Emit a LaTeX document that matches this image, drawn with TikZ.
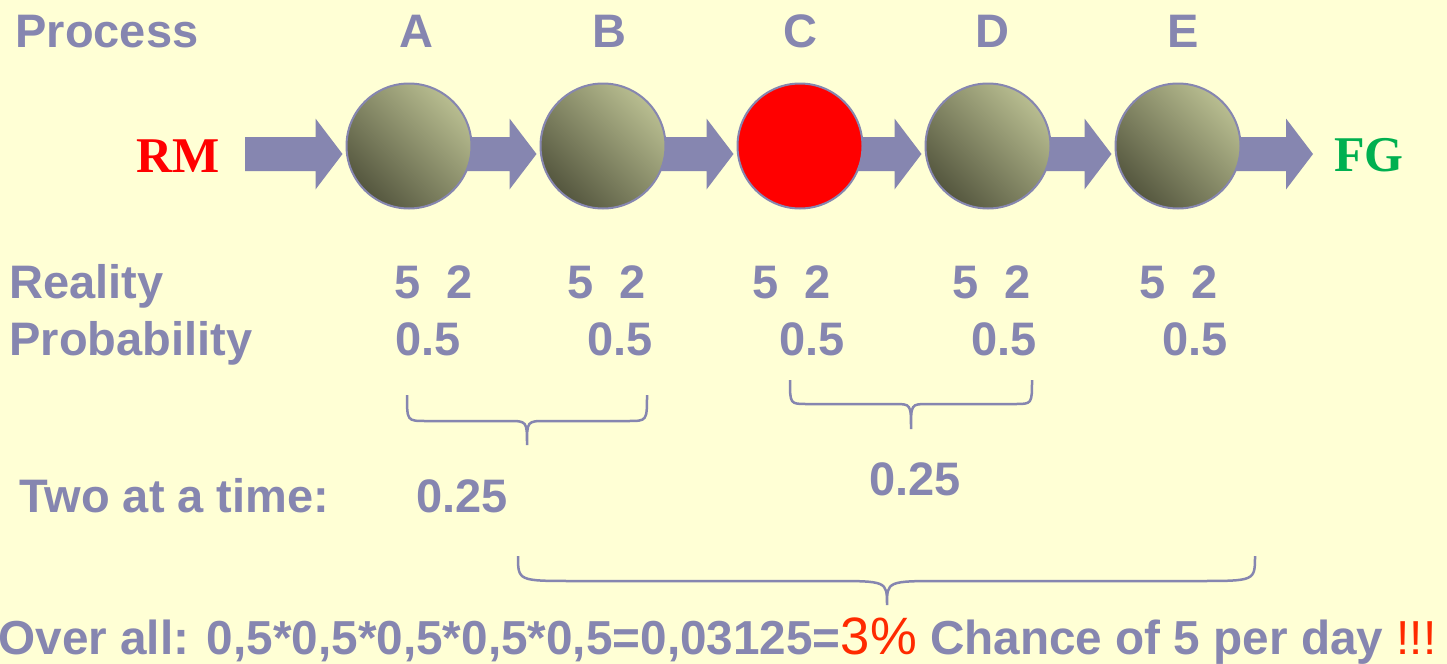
\documentclass[tikz,border=0pt]{standalone}
\usepackage{fontspec}
\setmainfont{Liberation Sans}
\newfontfamily\serifbf{Liberation Serif}
\usepackage{tikz}
\usepackage{xcolor}
\usetikzlibrary{calc}
\definecolor{SlideYellow}{HTML}{FFFFD5}
\definecolor{SlideBlue}{HTML}{8686B0}
\definecolor{BallLight}{HTML}{B8BD90}
\definecolor{BallDark}{HTML}{55573F}
\definecolor{SlideGreen}{HTML}{00B050}
\definecolor{SlideRed}{HTML}{FF2A00}
\pgfdeclarelayer{bg}
\pgfsetlayers{bg,main}
\tikzset{
  ball/.style={circle, draw=SlideBlue, line width=1pt, minimum size=62.5pt, inner sep=0pt, top color=BallLight, bottom color=BallDark, shading angle=-45},
  hotball/.style={circle, draw=SlideBlue, line width=1pt, minimum size=62.5pt, inner sep=0pt, fill=red},
  lbl/.style={inner sep=0pt, text=SlideBlue, font=\fontsize{23.5}{28}\selectfont\bfseries},
  endlbl/.style={inner sep=0pt, font=\fontsize{25}{30}\selectfont\serifbf\bfseries},
  bracel/.style={draw=SlideBlue, line width=1.25pt}
}
% fat block arrow: #1 tail, #2 tip
\newcommand\fatarrow[2]{%
  \fill[SlideBlue] ($(#1)+(0,-17)$) -- ($(#2)+(-27,-17)$) -- ($(#2)+(-27,-35.5)$) -- (#2)
    -- ($(#2)+(-27,35.5)$) -- ($(#2)+(-27,17)$) -- ($(#1)+(0,17)$) -- cycle;}
% curly brace: x1, x2, y ends, y bar, x tip, y tip, bend
\newcommand\curly[7]{%
  \draw[bracel] (#1,#3) .. controls (#1,#4) .. (#1+#7,#4) -- (#5-#7,#4)
    .. controls (#5,#4) .. (#5,#6) .. controls (#5,#4) .. (#5+#7,#4)
    -- (#2-#7,#4) .. controls (#2,#4) .. (#2,#3);}

\begin{document}
\begin{tikzpicture}[x=0.5pt, y=-0.5pt]
  \useasboundingbox (0,0) rectangle (1447,664);
  \begin{pgfonlayer}{bg}
    \fill[SlideYellow] (0,0) rectangle (1447,664);
  \end{pgfonlayer}

  % the line
  \node[ball] (A) at (409,146) {};
  \node[ball] (B) at (603,146) {};
  \node[hotball] (C) at (800,146) {};
  \node[ball] (D) at (988,146) {};
  \node[ball] (E) at (1178,146) {};
  \node[endlbl, text=red] (rm) at (178,156) {RM};
  \node[endlbl, text=SlideGreen, anchor=base west] (fg) at (1334,171) {FG};
  \coordinate (rmtail) at (245,154);
  \coordinate (fgtip) at (1313,154);
  \foreach \n in {A,B,C,D,E} {
    \coordinate (in\n) at ($(\n.west)+(-3,8)$);
    \coordinate (out\n) at ($(\n.center)+(0,8)$);
  }
  \begin{pgfonlayer}{bg}
    \fatarrow{rmtail}{inA}
    \fatarrow{outA}{inB}
    \fatarrow{outB}{inC}
    \fatarrow{outC}{inD}
    \fatarrow{outD}{inE}
    \fatarrow{outE}{fgtip}
  \end{pgfonlayer}

  % labels
  \node[lbl, anchor=base west] (process) at (15,47) {Process};
  \foreach \n/\x in {A/416,B/609,C/800,D/992,E/1183}
    \node[lbl, anchor=base] (lbl\n) at (\x,47) {\n};
  \node[lbl, anchor=base west] (reality) at (9,298) {Reality};
  \node[lbl, anchor=base west] (prob) at (9,355) {Probability};
  \foreach \x [count=\i] in {394,567,752,952,1139}
    \node[lbl, anchor=base west] (real\i) at (\x,298) {5~~2};
  \foreach \x [count=\i] in {428,620,812,1004,1195}
    \node[lbl, anchor=base] (prob\i) at (\x,355) {0.5};

  % pairs
  \curly{407}{647}{395}{421}{527}{445}{19}
  \curly{790}{1032}{380}{404}{911}{429}{17}
  \node[lbl, anchor=base west] (two) at (19,512) {Two at a time:};
  \node[lbl, anchor=base] (pairAB) at (462,512) {0.25};
  \node[lbl, anchor=base] (pairCD) at (915,495) {0.25};

  % over all
  \curly{518}{1255}{556}{581}{887}{605}{57}
  \node[lbl, font=\fontsize{23.85}{28}\selectfont\bfseries, anchor=base west] (overall) at (-2,654) {Over all: 0,5*0,5*0,5*0,5*0,5=0,03125={\color{SlideRed}\fontsize{26.3}{30}\selectfont\mdseries 3\%} Chance of 5 per day {\color{SlideRed}\mdseries !!!}};
\end{tikzpicture}
\end{document}
